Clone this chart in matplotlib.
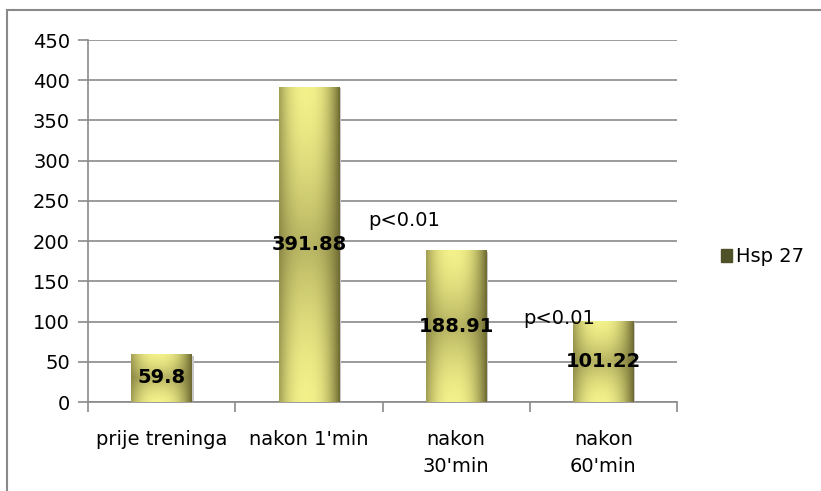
import numpy as np
import matplotlib.pyplot as plt
from matplotlib.patches import Rectangle

plt.rcParams['font.family'] = ['DejaVu Sans']

categories = ["prije treninga", "nakon 1'min", "nakon\n30'min", "nakon\n60'min"]
hsp27 = [59.8, 391.88, 188.91, 101.22]
p_notes = ["p<0.01", "p<0.01"]
p_note_pos = [(1.65, 226), (2.70, 104)]

LIGHT = np.array([243, 241, 138]) / 255
DARK = np.array([110, 106, 50]) / 255
GRID = "#8a8a8a"
FS = 14


def bar_gradient(nx=80, ny=200):
    x = np.linspace(0, 1, nx)
    y = np.linspace(0, 1, ny)
    X, Y = np.meshgrid(x, y)
    ex = np.clip(np.abs(X - 0.45) / 0.55, 0, 1) ** 2.5
    ey = 0.45 * (1 - np.abs(2 * Y - 1)) ** 1.5
    w = 1 - (1 - ex) * (1 - ey)
    return LIGHT[None, None, :] * (1 - w[..., None]) + DARK[None, None, :] * w[..., None]


fig = plt.figure(figsize=(8.21, 4.91), dpi=100)
ax = fig.add_axes([88 / 821, 1 - 402 / 491, 589 / 821, 362 / 491])

xs = np.arange(len(categories))
width = 0.41
grad = bar_gradient()
bars = ax.bar(xs, hsp27, width=width, color="none", edgecolor="none", zorder=3)
for b, v in zip(bars, hsp27):
    x0 = b.get_x()
    # soft drop shadow behind each bar
    ax.add_patch(Rectangle((x0 + 0.012, -2), width, v, color="#c8c8c8", zorder=2, lw=0))
    im = ax.imshow(grad, extent=(x0, x0 + width, 0, v), aspect="auto",
                   origin="lower", zorder=3, interpolation="bilinear")
    im.set_clip_path(b)
    ax.text(b.get_x() + width / 2, v / 2, f"{v:g}", ha="center", va="center",
            fontsize=FS, fontweight="bold", color="black", zorder=5)

for txt, (px, py) in zip(p_notes, p_note_pos):
    ax.text(px, py, txt, ha="center", va="center", fontsize=FS, zorder=6)

ax.set_xlim(-0.5, len(categories) - 0.5)
ax.set_ylim(0, 450)
ax.set_yticks(range(0, 451, 50))
ax.set_xticks(xs)
ax.set_xticklabels(categories, fontsize=FS, linespacing=1.55)
ax.set_xticks(np.arange(-0.5, len(categories), 1), minor=True)
ax.tick_params(axis="x", which="major", length=0, pad=20)
ax.tick_params(axis="x", which="minor", length=7, width=1.2, color=GRID)
ax.tick_params(axis="y", length=7, width=1.2, color=GRID, labelsize=FS, pad=6)
ax.grid(axis="y", color=GRID, lw=1.2, zorder=0)
ax.set_axisbelow(True)
for s in ["top", "right"]:
    ax.spines[s].set_visible(False)
for s in ["left", "bottom"]:
    ax.spines[s].set_color(GRID)
    ax.spines[s].set_linewidth(1.2)

handle = Rectangle((0, 0), 1, 1, color="#4f5228")
fig.legend([handle], ["Hsp 27"], loc="center left", bbox_to_anchor=(703 / 821, 1 - 257 / 491),
           frameon=False, fontsize=FS, handlelength=0.6, handleheight=0.6, handletextpad=0.2)

fig.patches.append(Rectangle((7 / 821, -0.1), 1.2, 1.1 - 10 / 491, transform=fig.transFigure,
                             fill=False, edgecolor=GRID, lw=1.5))

fig.savefig("out.png", dpi=100)
